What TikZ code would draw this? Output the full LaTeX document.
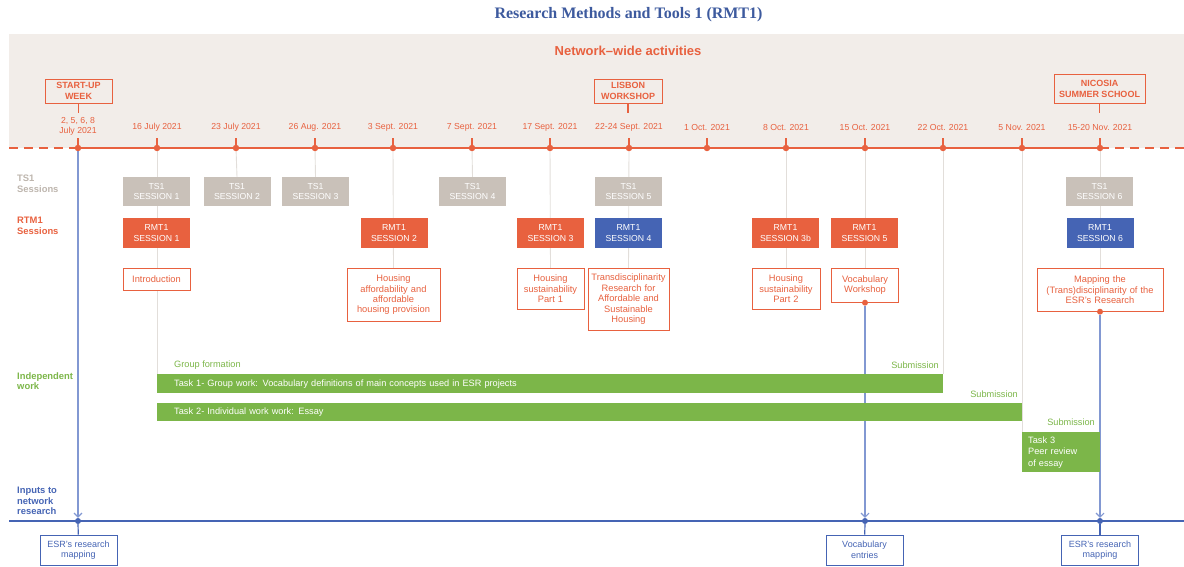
\documentclass[tikz,border=0pt]{standalone}
\usepackage{fontspec}
\setmainfont{Liberation Sans}
\newfontfamily\ttlfont{Liberation Serif}
\usetikzlibrary{arrows.meta}
\newcommand\myfs[2]{\fontsize{#1}{#2}\selectfont}
\definecolor{org}{HTML}{E8613F}
\definecolor{beige}{HTML}{F2EDE9}
\definecolor{tsg}{HTML}{C9C1B9}
\definecolor{tsl}{HTML}{BDB5AD}
\definecolor{bl}{HTML}{4564B4}
\definecolor{bll}{HTML}{8298D2}
\definecolor{grn}{HTML}{7CB649}
\definecolor{gl}{HTML}{E2DEDA}
\definecolor{ttl}{HTML}{3D5A9E}
\pgfdeclarelayer{bg}
\pgfsetlayers{bg,main}
\begin{document}
\begin{tikzpicture}[x=1pt,y=-1pt,
  tdot/.style={circle,fill=org,inner sep=0pt,minimum size=6.5pt},
  bdot/.style={circle,fill=bl,inner sep=0pt,minimum size=6pt},
  tl/.style={org,line width=2pt},
  tick/.style={org,line width=1.5pt},
  datelab/.style={text=org,font=\myfs{8.7}{10.5},align=center,inner sep=0pt},
  ev/.style={draw=org,line width=0.8pt,fill=beige,text=org,font=\bfseries\myfs{9}{11},align=center,inner sep=0pt},
  tsbox/.style={fill=tsg,text=white,font=\myfs{8.7}{10.5},align=center,minimum width=67pt,minimum height=29pt,inner sep=0pt},
  rmbox/.style={fill=org,text=white,font=\myfs{8.7}{10.5},align=center,minimum width=67pt,minimum height=30pt,inner sep=0pt},
  rmblue/.style={rmbox,fill=bl},
  desc/.style={draw=org,line width=0.7pt,fill=white,text=org,font=\myfs{9.3}{10.4},align=center,anchor=north,inner xsep=1pt,inner ysep=0pt},
  taskbar/.style={fill=grn,text=white,font=\myfs{9.2}{11.5},align=left,inner ysep=0pt},
  lab/.style={font=\bfseries\myfs{9.4}{10.5},align=left,anchor=north west,inner sep=0pt},
  sub/.style={text=grn,font=\myfs{9.2}{10},inner sep=0pt},
  outbox/.style={draw=bl,line width=0.8pt,fill=white,text=bl,font=\myfs{9}{10.5},align=center,minimum width=77pt,minimum height=30pt,inner sep=0pt},
  gline/.style={gl,line width=0.9pt},
  bline/.style={bll,line width=1.1pt,-{Straight Barb[length=4pt,width=8pt]}},
  stub/.style={org,line width=1.2pt}
]
\useasboundingbox (0,0) rectangle (1184,567);
\begin{pgfonlayer}{bg}
\fill[beige] (9,34) rectangle (1184,148);
\end{pgfonlayer}

% title
\node[font=\ttlfont\bfseries\myfs{16}{18},text=ttl] (title) at (628.5,15) {Research Methods and Tools 1 (RMT1)};
\node[font=\bfseries\myfs{13}{14},text=org] (nwa) at (628,51) {Network–wide activities};

% timeline dots
\node[tdot] (d0) at (78,148) {};
\foreach \x [count=\i] in {157,236,315,393,472,550,629,707,786,865,943,1022,1100}
  \node[tdot] (d\i) at (\x,148) {};
\coordinate (lend) at (9,148);
\coordinate (rend) at (1184,148);
\draw[tl] (d0.center) -- (d13.center);
\draw[tl,dash pattern=on 9pt off 6pt] (lend) -- (d0.center);
\draw[tl,dash pattern=on 9pt off 6pt] (d13.center) -- (rend);
\foreach \i in {0,...,13} \draw[tick] (d\i.center) -- ++(0,-10);

% dates
\node[datelab] (t0) at (78,126.5) {2, 5, 6, 8\\July 2021};
\foreach \x/\t [count=\i] in {157/16 July 2021,236/23 July 2021,315/26 Aug. 2021,393/3 Sept. 2021,472/7 Sept. 2021,550/17 Sept. 2021,629/22-24 Sept. 2021,707/1 Oct. 2021,786/8 Oct. 2021,865/15 Oct. 2021,943/22 Oct. 2021,1022/5 Nov. 2021,1100/15-20 Nov. 2021}
  \node[datelab] (t\i) at (\x,127.5) {\t};

% events
\node[ev,minimum width=67pt,minimum height=24pt] (e0) at (78.5,91) {START-UP\\WEEK};
\node[ev,minimum width=68pt,minimum height=24pt] (e1) at (628,91) {LISBON\\WORKSHOP};
\node[ev,minimum width=91pt,minimum height=29pt] (e2) at (1099.5,88.5) {NICOSIA\\SUMMER SCHOOL};
\coordinate (s0) at (78.5,113);
\coordinate (s1) at (628,113);
\coordinate (s2) at (1099.5,113);
\draw[stub] (e0.south) -- (s0);
\draw[stub] (e1.south) -- (s1);
\draw[stub] (e2.south) -- (s2);

% left labels
\node[lab,text=tsl] (lts) at (17,175) {TS1\\Sessions};
\node[lab,text=org] (lrm) at (17,217) {RTM1\\Sessions};
\node[lab,text=grn] (lind) at (17,372) {Independent\\work};
\node[lab,text=bl] (linp) at (17,487) {Inputs to\\network\\research};

% TS1 sessions
\node[tsbox] (ts1) at (156.5,191.5) {TS1\\SESSION 1};
\node[tsbox] (ts2) at (237,191.5) {TS1\\SESSION 2};
\node[tsbox] (ts3) at (315.5,191.5) {TS1\\SESSION 3};
\node[tsbox] (ts4) at (472.5,191.5) {TS1\\SESSION 4};
\node[tsbox] (ts5) at (628.5,191.5) {TS1\\SESSION 5};
\node[tsbox] (ts6) at (1099.5,191.5) {TS1\\SESSION 6};

% RMT1 sessions
\node[rmbox] (rm1) at (156.5,233) {RMT1\\SESSION 1};
\node[rmbox] (rm2) at (394,233) {RMT1\\SESSION 2};
\node[rmbox] (rm3) at (550.5,233) {RMT1\\SESSION 3};
\node[rmblue] (rm4) at (628.5,233) {RMT1\\SESSION 4};
\node[rmbox] (rm3b) at (785.5,233) {RMT1\\SESSION 3b};
\node[rmbox] (rm5) at (864.5,233) {RMT1\\SESSION 5};
\node[rmblue] (rm6) at (1100,233) {RMT1\\SESSION 6};

% descriptions
\node[desc,text width=65pt,minimum height=22pt] (intro) at (156.5,268) {Introduction};
\node[desc,text width=91pt,minimum height=53pt] (aff) at (393.5,268) {Housing\\affordability and\\affordable\\housing provision};
\node[desc,text width=65pt,minimum height=41pt] (sust1) at (550.5,268) {Housing\\sustainability\\Part 1};
\node[desc,text width=79pt,minimum height=62pt] (trans) at (628.5,268) {Transdisciplinarity\\Research for\\Affordable and\\Sustainable\\Housing};
\node[desc,text width=66pt,minimum height=41pt] (sust2) at (786,268) {Housing\\sustainability\\Part 2};
\node[desc,text width=65pt,minimum height=34pt] (vocab) at (865,268) {Vocabulary\\Workshop};
\node[desc,text width=124pt,minimum height=43pt] (map) at (1100,268) {Mapping the\\(Trans)disciplinarity of the\\ESR’s Research};
\node[tdot,minimum size=6pt] (vdot) at (vocab.south) {};
\node[tdot,minimum size=6pt] (mdot) at (map.south) {};

% independent work
\node[sub,anchor=west] (gf) at (174,365) {Group formation};
\node[sub,anchor=east] (sub1) at (939,365) {Submission};
\node[sub,anchor=east] (sub2) at (1018,394) {Submission};
\node[sub,anchor=east] (sub3) at (1095,422) {Submission};
\node[taskbar,anchor=north west,inner xsep=17pt,text width=752pt,minimum height=19pt] (task1) at (157,374) {Task 1- Group work: Vocabulary definitions of main concepts used in ESR projects};
\node[taskbar,anchor=north west,inner xsep=17pt,text width=831pt,minimum height=18pt] (task2) at (157,403) {Task 2- Individual work work: Essay};
\node[taskbar,anchor=north west,inner xsep=6pt,text width=66pt,minimum height=40pt] (task3) at (1022,432) {Task 3\\Peer review\\of essay};

% bottom timeline
\coordinate (bl0) at (9,521);
\coordinate (bl1) at (1184,521);
\draw[bl,line width=1.5pt] (bl0) -- (bl1);
\node[bdot] (b0) at (78,521) {};
\node[bdot] (b1) at (865,521) {};
\node[bdot] (b2) at (1100,521) {};
\node[outbox] (o0) at (78.5,550) {ESR’s research\\mapping};
\node[outbox] (o1) at (864.5,550) {Vocabulary\\entries};
\node[outbox] (o2) at (1100,550) {ESR’s research\\mapping};
\draw[bl,line width=1.2pt] (b0) -- (o0);
\draw[bl,line width=1.2pt] (b1) -- (o1);
\draw[bl,line width=1.2pt] (b2) -- (o2);

% background connectors
\begin{pgfonlayer}{bg}
\draw[gline] (d1.center) -- (d1 |- task1.north);
\draw[gline] (d2.center) -- (ts2.north);
\draw[gline] (d3.center) -- (ts3.north);
\draw[gline] (d4.center) -- (aff.north);
\draw[gline] (d5.center) -- (ts4.north);
\draw[gline] (d6.center) -- (sust1.north);
\draw[gline] (d7.center) -- (trans.north);
\draw[gline] (d9.center) -- (sust2.north);
\draw[gline] (d10.center) -- (vocab.north);
\draw[gline] (d11.center) -- (d11 |- task1.north);
\draw[gline] (d12.center) -- (d12 |- task3.north);
\draw[gline] (d13.center) -- (map.north);
\draw[bline] (d0.center) -- (b0);
\draw[bline] (vdot) -- (b1);
\draw[bline] (mdot) -- (b2);
\end{pgfonlayer}
\end{tikzpicture}
\end{document}
